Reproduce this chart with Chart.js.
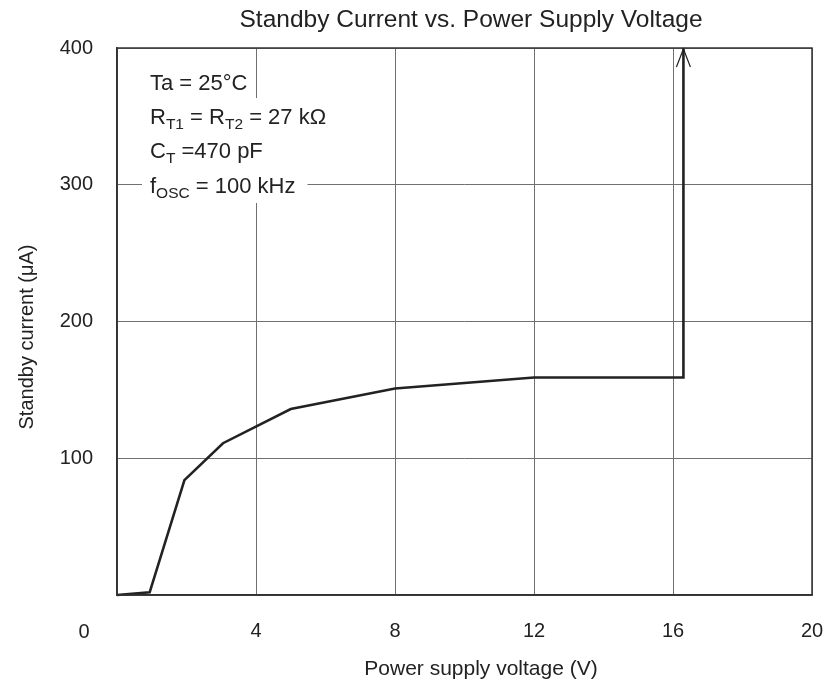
<!DOCTYPE html>
<html>
<head>
<meta charset="utf-8">
<script src="https://cdn.jsdelivr.net/npm/chart.js@4/dist/chart.umd.min.js"></script>
<style>
  html, body { margin: 0; padding: 0; background: #fff; }
  #wrap { width: 830px; height: 688px; }
</style>
</head>
<body>
<div id="wrap"><canvas id="c" width="830" height="688"></canvas></div>
<script>
// Standby current vs. power supply voltage
const voltage = [0, 0.94, 1.94, 3.05, 5.0, 8.0, 12.0, 16.3, 16.3];   // V
const current = [0, 2, 84, 111, 136, 151, 159, 159, 400];           // µA
const xTickValues = [0, 4, 8, 12, 16, 20];
const yTickValues = [0, 100, 200, 300, 400];

const chartTitle = 'Standby Current vs. Power Supply Voltage';
const xTitle = 'Power supply voltage (V)';
const yTitle = 'Standby current (\u03BCA)';

// condition block: each line is a list of [text, isSubscript]
const conditions = [
  [['Ta = 25\u00B0C', false]],
  [['R', false], ['T1', true], [' = R', false], ['T2', true], [' = 27 k\u03A9', false]],
  [['C', false], ['T', true], [' =470 pF', false]],
  [['f', false], ['OSC', true], [' = 100 kHz', false]]
];

const FONT = '"Liberation Sans", Arial, Helvetica, sans-serif';
const INK = '#222';
const FRAME = '#333';
const GRID = '#707070';

const points = voltage.map((v, i) => ({ x: v, y: current[i] }));

const decorations = {
  id: 'decorations',
  afterDraw(chart) {
    const { ctx, chartArea: a, scales } = chart;
    const xs = scales.x, ys = scales.y;
    ctx.save();

    // full frame
    ctx.strokeStyle = FRAME;
    ctx.lineWidth = 1.5;
    ctx.strokeRect(a.left, a.top, a.right - a.left, a.bottom - a.top);

    // open arrowhead on top of the vertical rise
    const last = points[points.length - 1];
    const tx = xs.getPixelForValue(last.x);
    const ty = ys.getPixelForValue(last.y);
    ctx.strokeStyle = INK;
    ctx.lineWidth = 1.2;
    ctx.beginPath();
    ctx.moveTo(tx - 7, ty + 19);
    ctx.lineTo(tx, ty + 1);
    ctx.lineTo(tx + 7, ty + 19);
    ctx.stroke();

    // shared origin label
    ctx.fillStyle = INK;
    ctx.font = '20px ' + FONT;
    ctx.textAlign = 'center';
    ctx.textBaseline = 'alphabetic';
    ctx.fillText('0', a.left - 33, a.bottom + 43);

    // condition text with white backing
    const mainFont = '22px ' + FONT;
    const subFont = '15.5px ' + FONT;
    const x0 = a.left + 33;
    const baselines = [90, 124, 158, 193];
    const widths = conditions.map(line => line.reduce((w, [t, sub]) => {
      ctx.font = sub ? subFont : mainFont;
      return w + ctx.measureText(t).width;
    }, 0));
    const backs = [widths[0] + 5, widths[1] + 6, widths[1] + 6, widths[3] + 12];
    ctx.fillStyle = '#fff';
    conditions.forEach((line, i) => {
      const top = i === 0 ? baselines[i] - 24 : baselines[i] - 26;
      ctx.fillRect(x0 - 8, top, backs[i] + 8, 36);
    });
    ctx.fillStyle = INK;
    ctx.textAlign = 'left';
    conditions.forEach((line, i) => {
      let x = x0;
      line.forEach(([t, sub]) => {
        ctx.font = sub ? subFont : mainFont;
        ctx.fillText(t, x, baselines[i] + (sub ? 5 : 0));
        x += ctx.measureText(t).width;
      });
    });

    // titles
    ctx.textAlign = 'center';
    ctx.font = '24.5px ' + FONT;
    ctx.fillText(chartTitle, 471, 27);
    ctx.font = '21px ' + FONT;
    ctx.fillText(xTitle, 481, 675);
    ctx.translate(33, 337);
    ctx.rotate(-Math.PI / 2);
    ctx.font = '20px ' + FONT;
    ctx.fillText(yTitle, 0, 0);
    ctx.restore();
  }
};

new Chart(document.getElementById('c'), {
  type: 'scatter',
  data: {
    datasets: [{
      data: points,
      showLine: true,
      borderColor: INK,
      borderWidth: 2.6,
      pointRadius: 0,
      tension: 0,
      fill: false,
      clip: false
    }]
  },
  options: {
    responsive: false,
    animation: false,
    events: [],
    layout: { padding: { top: 48, right: 18, left: 0, bottom: 0 } },
    plugins: { legend: { display: false }, tooltip: { enabled: false }, title: { display: false } },
    scales: {
      x: {
        type: 'linear',
        min: 0, max: 20,
        afterBuildTicks: s => { s.ticks = xTickValues.map(v => ({ value: v })); },
        afterFit: s => { s.height = 93; s.paddingLeft = 0; s.paddingRight = 0; },
        ticks: {
          callback: v => (v === 0 ? '' : String(v)),
          font: { family: FONT, size: 20 },
          color: INK,
          padding: 24,
          maxRotation: 0
        },
        grid: { color: GRID, lineWidth: 1, drawTicks: false },
        border: { display: true, color: FRAME, width: 1.5 }
      },
      y: {
        type: 'linear',
        min: 0, max: 400,
        afterBuildTicks: s => { s.ticks = yTickValues.map(v => ({ value: v })); },
        afterFit: s => { s.width = 117; s.paddingTop = 0; s.paddingBottom = 0; },
        ticks: {
          callback: v => (v === 0 ? '' : String(v)),
          font: { family: FONT, size: 20 },
          color: INK,
          padding: 24
        },
        grid: { color: GRID, lineWidth: 1, drawTicks: false },
        border: { display: true, color: FRAME, width: 1.5 }
      }
    }
  },
  plugins: [decorations]
});
</script>
</body>
</html>
